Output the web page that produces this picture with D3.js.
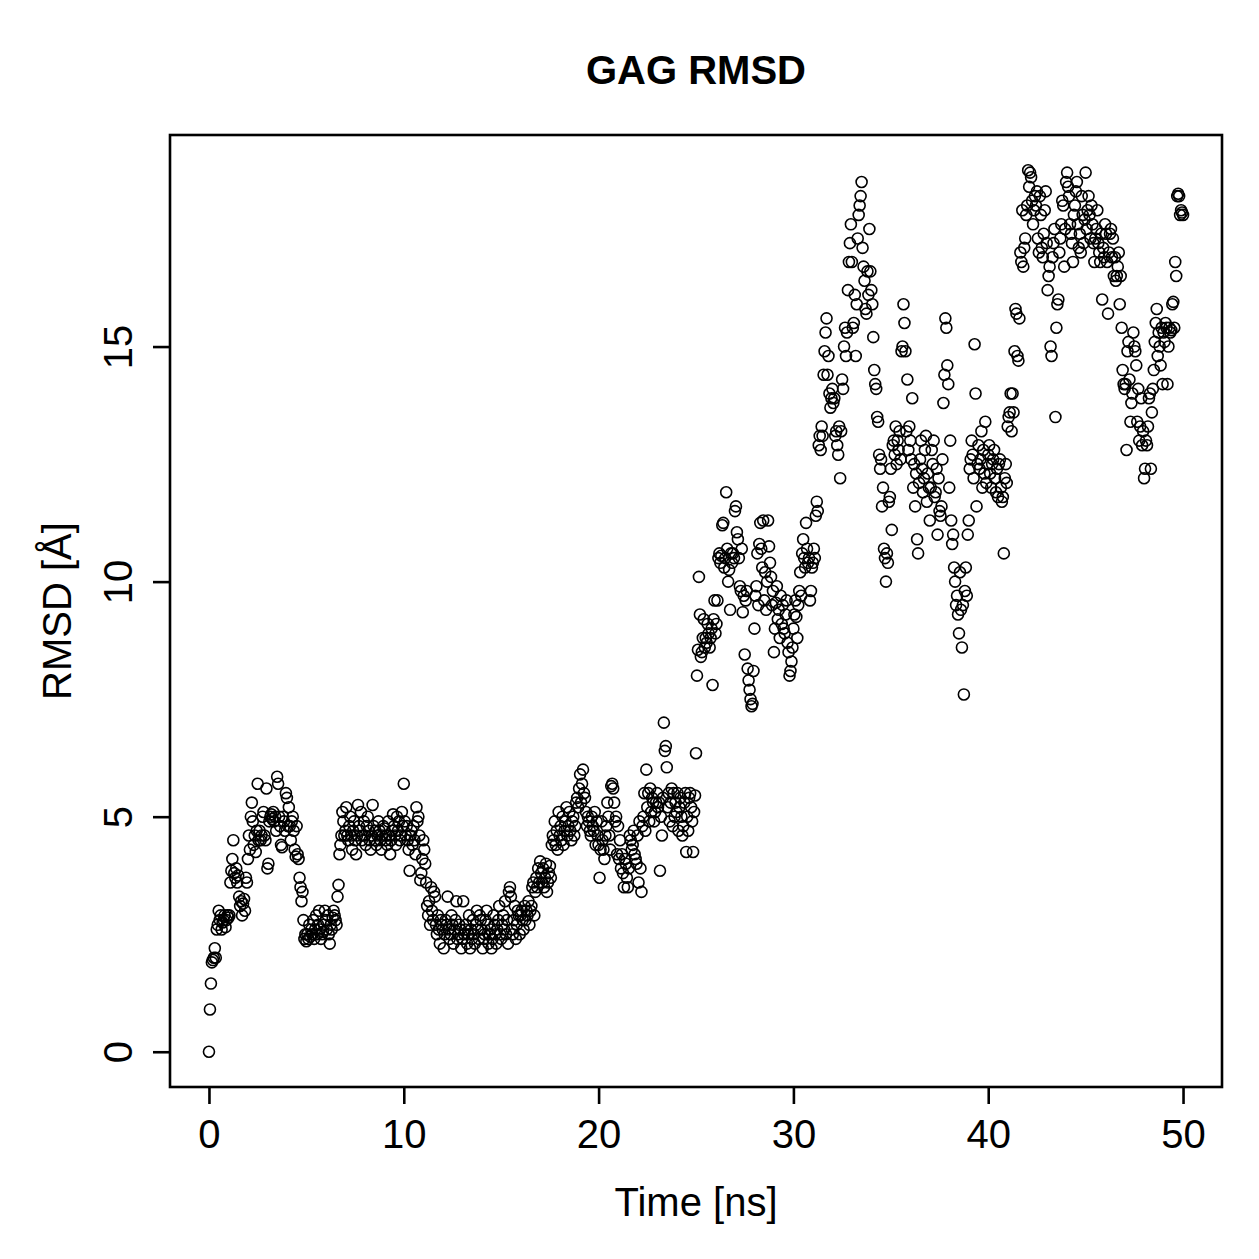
<!DOCTYPE html>
<html>
<head>
<meta charset="utf-8">
<script src="https://cdn.jsdelivr.net/npm/d3@7"></script>
<style>
    body { margin: 0; background: #fff; }
    text { font-family: "Liberation Sans", Arial, Helvetica, sans-serif; fill: #000; }
</style>
</head>
<body>
<script>
// RMSD samples, one every 0.05 ns, split by 10 ns blocks
let rmsd0to10 = [
    0.0, 0.9, 1.45, 1.9, 1.95, 2.0, 2.2, 2.0, 2.6, 2.7, 3.0, 2.8, 2.9, 2.6, 2.75, 2.8, 2.9, 2.65, 2.8, 2.9,
    2.85, 2.9, 3.6, 3.85, 4.1, 4.5, 3.8, 3.7, 3.9, 3.6, 3.75, 3.3, 3.1, 3.2, 2.9, 3.15, 3.25, 3.0, 3.7, 3.6,
    4.1, 4.6, 4.3, 5.0, 5.3, 4.9, 4.4, 4.6, 4.25, 4.7, 5.7, 4.5, 4.7, 4.5, 4.6, 5.0, 5.1, 4.6, 4.5, 5.6,
    3.9, 4.0, 4.9, 5.0, 5.05, 4.95, 5.1, 4.9, 5.0, 4.7, 5.85, 5.7, 5.0, 4.8, 4.4, 4.35, 5.0, 4.9, 4.7, 5.5,
    5.4, 4.8, 5.2, 4.8, 4.5, 4.9, 5.0, 4.7, 4.3, 4.15, 4.8, 4.2, 4.1, 3.7, 3.5, 3.2, 3.4, 2.8, 2.4, 2.5,
    2.35, 2.5, 2.4, 2.7, 2.45, 2.6, 2.5, 2.8, 2.4, 2.6, 2.9, 2.5, 2.7, 3.0, 2.6, 2.4, 2.5, 2.55, 2.7, 3.0,
    2.8, 2.6, 2.9, 2.5, 2.3, 2.7, 2.6, 2.85, 3.0, 2.9, 2.8, 2.7, 3.3, 3.55, 4.2, 4.4, 4.6, 5.1, 4.9, 4.6,
    4.7, 5.2, 4.6, 4.5, 4.8, 5.0, 4.6, 4.3, 4.7, 4.9, 4.5, 4.2, 4.6, 5.25, 4.8, 4.7, 5.1, 4.5, 4.6, 4.9,
    4.6, 4.4, 4.8, 5.0, 4.7, 4.5, 4.3, 4.6, 5.25, 4.8, 4.5, 4.7, 4.4, 4.6, 4.9, 4.7, 4.5, 4.3, 4.6, 4.8,
    4.75, 4.5, 4.6, 4.4, 4.9, 4.6, 4.2, 4.5, 4.7, 5.05, 4.8, 4.6, 4.4, 5.0, 4.7, 4.9, 4.5, 4.6, 5.1, 4.8
];
let rmsd10to20 = [
    5.7, 4.9, 4.6, 4.8, 4.5, 4.3, 3.85, 4.6, 4.7, 4.4, 4.8, 4.5, 4.2, 5.2, 4.9, 5.0, 4.6, 3.65, 3.8, 4.1,
    4.5, 4.3, 4.0, 3.6, 3.1, 2.9, 3.2, 2.7, 3.5, 3.0, 2.8, 3.4, 3.3, 2.7, 2.5, 2.9, 2.6, 2.3, 2.8, 2.7,
    2.6, 2.2, 2.5, 2.8, 2.7, 3.3, 2.6, 2.4, 2.5, 2.9, 2.7, 2.3, 2.6, 2.8, 3.2, 2.4, 2.5, 2.7, 2.6, 2.2,
    2.4, 3.2, 2.5, 2.6, 2.7, 2.3, 2.5, 2.9, 2.2, 2.6, 2.4, 2.8, 2.5, 2.3, 2.7, 3.0, 2.6, 2.4, 2.9, 2.8,
    2.6, 2.2, 2.4, 2.5, 2.8, 3.0, 2.7, 2.3, 2.5, 2.6, 2.2, 2.4, 2.9, 2.7, 2.5, 2.3, 2.6, 2.8, 3.1, 2.5,
    2.4, 2.7, 2.9, 2.6, 3.2, 2.5, 2.8, 2.3, 3.4, 3.5, 3.3, 2.6, 2.5, 2.8, 3.1, 2.4, 2.7, 3.0, 2.9, 2.5,
    2.9, 3.0, 2.8, 2.6, 3.1, 2.8, 3.0, 2.9, 3.2, 2.7, 3.0, 3.1, 3.5, 3.6, 2.9, 3.4, 3.7, 3.5, 3.9, 3.6,
    4.05, 3.8, 3.6, 3.9, 3.5, 3.7, 4.0, 3.4, 3.6, 3.8, 3.95, 3.7, 4.4, 4.6, 4.5, 4.9, 4.4, 4.7, 4.3, 5.1,
    4.6, 4.8, 4.5, 5.0, 4.4, 4.7, 4.9, 5.2, 4.6, 4.8, 5.1, 4.7, 4.5, 4.9, 5.0, 4.6, 4.8, 5.3, 5.4, 5.2,
    5.6, 5.9, 5.3, 5.7, 6.0, 5.5, 5.4, 5.1, 4.8, 5.0, 4.9, 4.7, 4.6, 5.0, 4.8, 4.7, 5.1, 4.4, 4.9, 4.6
];
let rmsd20to30 = [
    4.4, 3.7, 4.3, 4.9, 4.5, 4.3, 4.1, 4.6, 4.8, 5.3, 5.0, 4.6, 4.3, 5.65, 5.7, 5.6, 5.3, 4.9, 5.0, 4.2,
    4.8, 4.1, 4.5, 3.9, 4.2, 3.8, 3.5, 4.1, 4.0, 3.7, 3.5, 3.9, 4.6, 4.5, 4.3, 4.4, 4.7, 4.2, 4.1, 4.0,
    4.6, 3.6, 4.9, 3.9, 3.4, 4.8, 5.0, 5.5, 4.7, 6.0, 5.2, 5.5, 4.9, 5.6, 5.1, 5.4, 5.3, 4.9, 5.1, 5.3,
    5.5, 5.2, 5.3, 3.85, 5.0, 4.6, 5.4, 7.0, 6.4, 6.5, 6.05, 5.2, 5.5, 4.9, 5.3, 5.6, 4.8, 5.5, 5.0, 5.3,
    5.1, 5.5, 4.7, 5.2, 5.4, 5.0, 4.6, 4.8, 5.3, 5.5, 4.25, 5.0, 4.7, 5.4, 5.5, 5.2, 4.9, 4.25, 5.1, 5.45,
    6.35, 8.0, 8.55, 10.1, 9.3, 8.4, 8.5, 8.8, 9.2, 8.6, 8.8, 8.7, 9.1, 8.9, 8.6, 8.8, 9.0, 7.8, 9.2, 9.6,
    8.9, 9.1, 9.6, 10.5, 10.6, 10.4, 10.55, 11.2, 11.25, 10.3, 10.5, 11.9, 10.7, 10.0, 10.25, 9.4, 10.6, 10.4, 10.6, 10.5,
    11.5, 11.6, 11.05, 10.9, 10.5, 9.9, 9.8, 10.7, 9.35, 9.7, 8.45, 9.6, 9.8, 8.15, 7.9, 7.7, 7.5, 7.35, 7.4, 8.1,
    9.0, 9.7, 9.9, 10.6, 9.5, 10.8, 11.25, 10.7, 10.3, 11.3, 9.6, 10.2, 9.4, 10.0, 11.3, 10.75, 10.4, 10.1, 9.5, 9.8,
    8.5, 9.0, 9.55, 9.9, 9.2, 9.4, 8.8, 9.7, 9.1, 9.5, 9.0, 8.9, 9.3, 9.6, 8.7, 8.5, 8.0, 8.1, 8.3, 8.6
];
let rmsd30to40 = [
    9.0, 9.3, 9.6, 9.25, 8.8, 9.5, 9.8, 10.2, 9.7, 10.6, 10.9, 10.5, 10.3, 11.25, 10.7, 10.4, 10.5, 9.6, 9.8, 10.3,
    10.4, 10.7, 10.5, 11.4, 11.7, 11.5, 12.9, 13.1, 12.8, 13.3, 13.1, 14.4, 14.9, 15.3, 15.6, 14.4, 14.8, 14.0, 13.7, 13.9,
    14.1, 13.8, 13.9, 13.1, 13.2, 12.9, 12.7, 13.3, 12.2, 13.2, 14.3, 14.1, 15.0, 15.4, 14.8, 15.3, 16.2, 16.8, 17.2, 17.6,
    16.8, 15.4, 15.5, 16.1, 14.8, 15.9, 17.3, 17.8, 18.0, 18.2, 18.5, 17.1, 16.7, 16.4, 15.8, 15.7, 16.6, 16.1, 17.5, 16.6,
    16.2, 15.9, 15.2, 14.5, 14.2, 14.1, 13.5, 13.4, 12.7, 12.4, 12.6, 11.6, 12.0, 10.7, 10.5, 10.0, 10.6, 10.4, 11.7, 11.8,
    12.4, 11.1, 12.9, 13.0, 12.7, 13.3, 12.5, 13.0, 12.8, 13.2, 12.6, 14.9, 15.0, 15.9, 15.5, 14.9, 13.2, 14.3, 12.8, 13.3,
    13.0, 12.6, 13.9, 12.0, 12.5, 11.6, 12.3, 10.9, 10.6, 12.1, 12.6, 13.0, 12.4, 11.9, 12.2, 12.8, 13.1, 11.7, 12.3, 12.0,
    11.3, 12.0, 12.8, 12.5, 13.0, 11.8, 11.9, 12.4, 11.0, 12.2, 11.5, 11.4, 11.6, 12.6, 13.8, 14.4, 15.6, 15.4, 14.6, 14.2,
    12.0, 13.0, 11.3, 10.8, 11.0, 10.3, 10.0, 9.5, 9.7, 9.3, 8.9, 10.2, 9.4, 8.6, 9.5, 7.6, 9.8, 10.3, 9.7, 11.0,
    11.3, 12.4, 12.6, 13.0, 12.7, 12.2, 15.05, 14.0, 11.6, 12.5, 12.9, 12.4, 12.6, 13.2, 12.0, 12.8, 12.3, 13.4, 12.1, 12.5
];
let rmsd40to50 = [
    12.7, 12.9, 12.3, 12.0, 12.5, 12.6, 12.8, 12.2, 11.9, 12.4, 11.8, 12.5, 12.6, 12.0, 11.7, 11.8, 10.6, 12.2, 12.5, 12.1,
    13.3, 13.5, 13.6, 14.0, 13.2, 14.0, 13.6, 14.9, 15.8, 15.7, 14.8, 14.7, 15.6, 17.0, 16.8, 17.9, 16.7, 17.1, 17.3, 17.8,
    18.0, 18.75, 18.4, 18.7, 18.6, 18.1, 17.6, 17.9, 18.2, 18.0, 18.3, 17.3, 17.0, 18.2, 17.8, 17.1, 16.9, 17.4, 17.9, 18.3,
    17.2, 16.2, 16.5, 16.7, 15.0, 14.8, 16.9, 17.2, 17.5, 13.5, 15.4, 15.9, 16.0, 17.0, 17.3, 17.6, 18.1, 18.0, 16.7, 17.5,
    18.5, 18.7, 18.4, 18.2, 17.6, 17.4, 17.2, 16.8, 17.8, 18.0, 18.3, 18.5, 17.6, 17.1, 17.4, 17.0, 18.2, 17.8, 17.2, 17.7,
    18.7, 17.5, 17.9, 18.2, 17.8, 17.3, 18.0, 17.6, 17.2, 16.8, 17.3, 17.5, 17.9, 17.2, 17.0, 16.8, 17.4, 16.0, 17.1, 16.9,
    17.6, 17.4, 16.8, 15.7, 17.0, 17.4, 17.5, 16.9, 17.3, 16.5, 16.9, 16.4, 16.5, 16.7, 17.0, 15.9, 16.5, 15.4, 14.5, 14.2,
    14.1, 14.2, 12.8, 14.9, 15.1, 14.3, 13.4, 13.8, 14.0, 15.3, 15.0, 14.9, 14.6, 13.4, 14.1, 13.0, 13.3, 13.9, 12.9, 13.2,
    12.2, 12.4, 13.0, 12.9, 13.3, 13.9, 14.0, 12.4, 13.6, 14.1, 14.5, 15.1, 15.5, 15.8, 14.8, 15.3, 15.0, 14.6, 15.4, 14.2,
    15.3, 15.1, 15.5, 15.4, 14.2, 15.0, 15.4, 15.3, 15.35, 15.9, 15.95, 15.4, 16.8, 16.5, 18.2, 18.25, 18.2, 17.8, 17.9, 17.85,
    17.8
];

let timeStep = 0.05;   // ns between frames
let xTicks = [0, 10, 20, 30, 40, 50];
let yTicks = [0, 5, 10, 15];
let titleText = "GAG RMSD",
    xLabel = "Time [ns]",
    yLabel = "RMSD [Å]";

let svgContainer,
    svgWidth = 1259,
    svgHeight = 1259,
    plotBox = {
        left: 170,
        right: 1222,
        top: 135,
        bottom: 1087
    },
    tickLength = 17,
    fontSize = 40;

function init() {
    let rmsd = rmsd0to10.concat(rmsd10to20, rmsd20to30, rmsd30to40, rmsd40to50);
    let points = rmsd.map((v, i) => ({ t: i * timeStep, v: v }));

    drawSvgContainer(svgWidth, svgHeight);

    // R style: 4% padding on both ends of the data range
    let xExt = d3.extent(points, d => d.t),
        yExt = d3.extent(points, d => d.v);
    let xPad = (xExt[1] - xExt[0]) * 0.04,
        yPad = (yExt[1] - yExt[0]) * 0.04;

    let xScale = d3.scaleLinear().domain([xExt[0] - xPad, xExt[1] + xPad]).range([plotBox.left, plotBox.right]);
    let yScale = d3.scaleLinear().domain([yExt[0] - yPad, yExt[1] + yPad]).range([plotBox.bottom, plotBox.top]);

    drawPoints(points, xScale, yScale);
    drawAxes(xScale, yScale);
    drawBox();
    drawLabels();
}

function drawSvgContainer(width, height) {
    svgContainer = d3.select("body").append("svg")
    .attr("width", width)
    .attr("height", height);
}

function drawPoints(points, xScale, yScale) {
    svgContainer.append("g")
    .selectAll("circle")
    .data(points)
    .enter()
    .append("circle")
    .attr("cx", d => xScale(d.t))
    .attr("cy", d => yScale(d.v))
    .attr("r", 5.5)
    .style("fill", "none")
    .style("stroke", "#000")
    .style("stroke-width", 1.6);
}

function drawAxes(xScale, yScale) {
    let xAxis = d3.axisBottom(xScale).tickValues(xTicks).tickSize(tickLength).tickPadding(16).tickFormat(d3.format("d"));
    let yAxis = d3.axisLeft(yScale).tickValues(yTicks).tickSize(tickLength).tickFormat(d3.format("d"));

    let gx = svgContainer.append("g")
    .attr("transform", "translate(0," + plotBox.bottom + ")")
    .call(xAxis);

    let gy = svgContainer.append("g")
    .attr("transform", "translate(" + plotBox.left + ",0)")
    .call(yAxis);

    [gx, gy].forEach(g => {
        g.select(".domain").remove();
        g.selectAll(".tick line").attr("stroke", "#000").attr("stroke-width", 2.6);
        g.selectAll(".tick text")
        .attr("fill", "#000")
        .style("font-size", fontSize + "px")
        .style("font-family", '"Liberation Sans", Arial, Helvetica, sans-serif');
    });

    // rotated y tick labels, as in base R
    gy.selectAll(".tick text")
    .attr("x", null)
    .attr("dy", null)
    .attr("text-anchor", "middle")
    .attr("transform", "translate(-38,0) rotate(-90)");
}

function drawBox() {
    svgContainer.append("rect")
    .attr("x", plotBox.left)
    .attr("y", plotBox.top)
    .attr("width", plotBox.right - plotBox.left)
    .attr("height", plotBox.bottom - plotBox.top)
    .style("fill", "none")
    .style("stroke", "#000")
    .style("stroke-width", 2.6);
}

function drawLabels() {
    let midX = (plotBox.left + plotBox.right) / 2,
        midY = (plotBox.top + plotBox.bottom) / 2;

    svgContainer.append("text")
    .attr("x", midX)
    .attr("y", 84)
    .attr("text-anchor", "middle")
    .style("font-size", fontSize + "px")
    .style("font-weight", "bold")
    .text(titleText);

    svgContainer.append("text")
    .attr("x", midX)
    .attr("y", 1216)
    .attr("text-anchor", "middle")
    .style("font-size", fontSize + "px")
    .text(xLabel);

    svgContainer.append("text")
    .attr("transform", "translate(71," + midY + ") rotate(-90)")
    .attr("text-anchor", "middle")
    .style("font-size", fontSize + "px")
    .text(yLabel);
}

init();
</script>
</body>
</html>
